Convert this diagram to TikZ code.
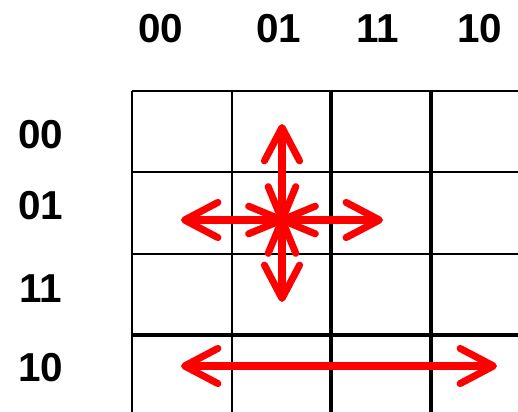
\documentclass[tikz,border=0pt]{standalone}
\usepackage{fontspec}
\setmainfont{Liberation Sans}
\usepackage{tikz}
\usetikzlibrary{arrows.meta}
\definecolor{arrowred}{RGB}{255,0,0}

\tikzset{
  thinline/.style={line width=1.1pt},
  thickline/.style={line width=2.1pt},
  label/.style={font=\fontsize{23}{25}\selectfont\bfseries},
  move/.style={draw=arrowred,line width=4pt,line cap=round,
    {Straight Barb[length=19pt,width=20pt,line cap=round,line join=round]}-{Straight Barb[length=19pt,width=20pt,line cap=round,line join=round]}},
  spoke/.style={draw=arrowred,line width=4pt,line cap=round}
}

\begin{document}
\begin{tikzpicture}[x=0.02cm,y=-0.02cm]
\useasboundingbox (0,0) rectangle (518,412);
\clip (0,0) rectangle (518,412);
\fill[white] (0,0) rectangle (518,412);
% grid
\draw[thinline] (132,91)--(540,91);
\draw[thinline] (132,172)--(540,172);
\draw[thinline] (132,254)--(540,254);
\draw[thickline] (132,335)--(540,335);
\draw[thinline] (132,91)--(132,430);
\draw[thinline] (232,91)--(232,430);
\draw[thickline] (331,91)--(331,430);
\draw[thickline] (431,91)--(431,430);
% column labels
\node[label] (c00) at (161,29) {00};
\node[label] (c01) at (279,29) {01};
\node[label] (c11) at (378,29) {11};
\node[label] (c10) at (480,29) {10};
% row labels
\node[label] (r00) at (41,135) {00};
\node[label] (r01) at (41,206) {01};
\node[label] (r11) at (41,289) {11};
\node[label] (r10) at (41,368) {10};
% neighbours of cell 0101
\coordinate (ctr) at (282,220);
\coordinate (up) at (282,124);
\coordinate (down) at (282,302);
\coordinate (left) at (181,220);
\coordinate (right) at (383,220);
\foreach \a in {22.5,67.5,...,337.5}
  \draw[spoke] (ctr) -- ++(\a:36 and -36);
\draw[move] (up) -- (down);
\draw[move] (left) -- (right);
% wrap-around in row 10
\coordinate (wl) at (181,366);
\coordinate (wr) at (497,366);
\draw[move] (wl) -- (wr);
\end{tikzpicture}
\end{document}
